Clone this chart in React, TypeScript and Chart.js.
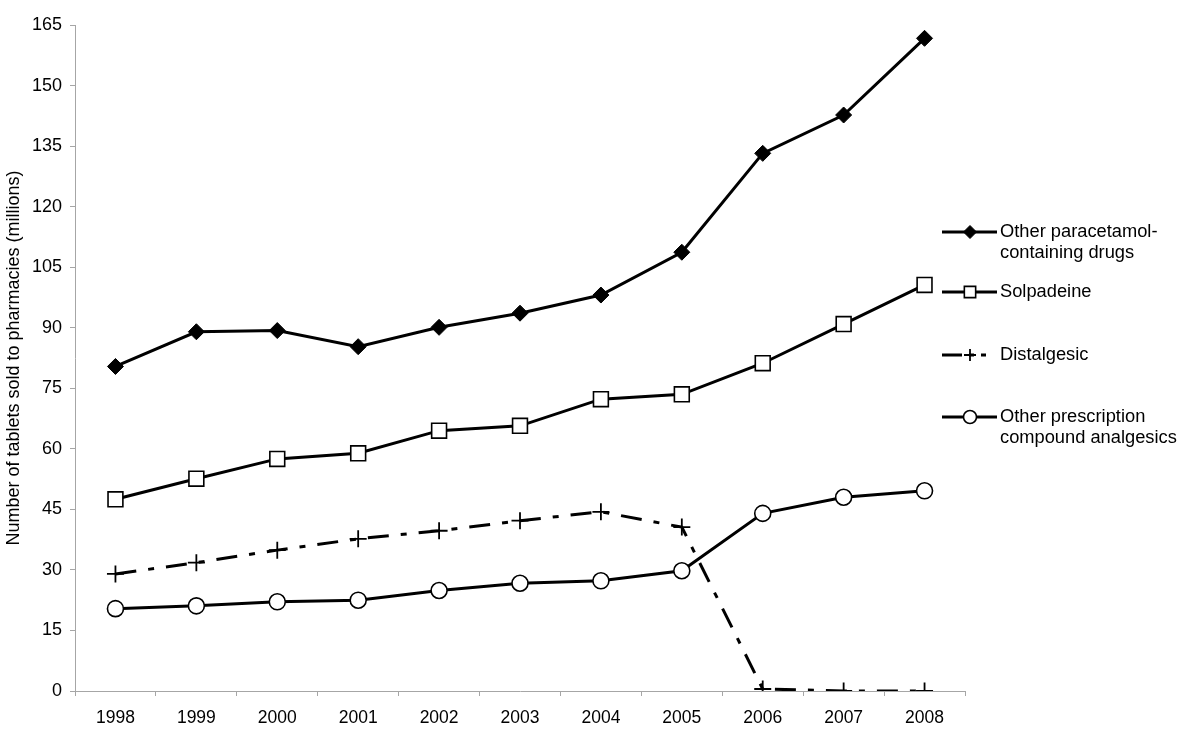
import React, { useEffect, useRef } from "react";
import { Chart, registerables } from "chart.js";

Chart.register(...registerables);

const years = ["1998", "1999", "2000", "2001", "2002", "2003", "2004", "2005", "2006", "2007", "2008"];
const paracetamol = [80.4, 89.0, 89.3, 85.3, 90.1, 93.6, 98.1, 108.7, 133.2, 142.7, 161.7];
const solpadeine = [47.5, 52.6, 57.5, 58.9, 64.5, 65.7, 72.3, 73.5, 81.2, 90.9, 100.6];
const distalgesic = [29.0, 31.8, 34.9, 37.7, 39.7, 42.2, 44.4, 40.6, 0.5, 0, 0];
const otherPrescription = [20.4, 21.1, 22.1, 22.5, 24.9, 26.7, 27.3, 29.8, 44.0, 48.0, 49.6];
const seriesNames = [
  ["Other paracetamol-", "containing drugs"],
  ["Solpadeine"],
  ["Distalgesic"],
  ["Other prescription", "compound analgesics"],
];
const yMin = 0;
const yMax = 165;
const yStep = 15;
const yTitle = "Number of tablets sold to pharmacies (millions)";

const FONT = "'Liberation Sans', Arial, Helvetica, sans-serif";
const AXIS_GRAY = "#a6a6a6";
const DASH = [21, 12, 6, 12];

function drawMarker(ctx: CanvasRenderingContext2D, style: string, x: number, y: number, r: number, fill: string, bw: number) {
  ctx.save();
  ctx.setLineDash([]);
  ctx.lineWidth = bw;
  ctx.strokeStyle = "#000";
  ctx.fillStyle = fill;
  ctx.beginPath();
  if (style === "rectRot") {
    ctx.moveTo(x, y - r);
    ctx.lineTo(x + r, y);
    ctx.lineTo(x, y + r);
    ctx.lineTo(x - r, y);
    ctx.closePath();
    ctx.fill();
    ctx.stroke();
  } else if (style === "rect") {
    const s = r * Math.SQRT1_2;
    ctx.rect(x - s, y - s, 2 * s, 2 * s);
    ctx.fill();
    ctx.stroke();
  } else if (style === "circle") {
    ctx.arc(x, y, r, 0, Math.PI * 2);
    ctx.fill();
    ctx.stroke();
  } else if (style === "cross") {
    ctx.moveTo(x - r, y);
    ctx.lineTo(x + r, y);
    ctx.moveTo(x, y - r);
    ctx.lineTo(x, y + r);
    ctx.stroke();
  }
  ctx.restore();
}

const legendPlugin = {
  id: "customLegend",
  afterDraw(chart: any) {
    const ctx: CanvasRenderingContext2D = chart.ctx;
    const rows = [232, 292, 355, 417];
    const legendR = [6.5, 8, 6, 6.5];
    chart.data.datasets.forEach((ds: any, i: number) => {
      const y = rows[i];
      ctx.save();
      ctx.strokeStyle = "#000";
      ctx.lineWidth = 3;
      ctx.lineCap = "butt";
      if (ds.borderDash && ds.borderDash.length) {
        ctx.setLineDash([20, 7, 5, 7]);
        ctx.beginPath();
        ctx.moveTo(942, y);
        ctx.lineTo(986, y);
        ctx.stroke();
      } else {
        ctx.beginPath();
        ctx.moveTo(942, y);
        ctx.lineTo(997, y);
        ctx.stroke();
      }
      ctx.restore();
      drawMarker(ctx, ds.pointStyle, 970, y, legendR[i], ds.pointBackgroundColor, ds.pointBorderWidth);
      ctx.save();
      ctx.fillStyle = "#000";
      ctx.font = `18.3px ${FONT}`;
      ctx.textAlign = "left";
      ctx.textBaseline = "middle";
      seriesNames[i].forEach((line, k) => {
        ctx.fillText(line, 1000, y + k * 20.5);
      });
      ctx.restore();
    });
  },
};

export default function App() {
  const ref = useRef<HTMLCanvasElement>(null);
  useEffect(() => {
    if (!ref.current) return;
    const chart = new Chart(ref.current, {
      type: "line",
      data: {
        labels: years,
        datasets: [
          {
            label: seriesNames[0].join(""),
            data: paracetamol,
            borderColor: "#000",
            borderWidth: 3,
            pointStyle: "rectRot",
            pointRadius: 8,
            pointBackgroundColor: "#000",
            pointBorderColor: "#000",
            pointBorderWidth: 1,
            tension: 0,
          },
          {
            label: seriesNames[1].join(""),
            data: solpadeine,
            borderColor: "#000",
            borderWidth: 3,
            pointStyle: "rect",
            pointRadius: 10.5,
            pointBackgroundColor: "#fff",
            pointBorderColor: "#000",
            pointBorderWidth: 1.6,
            tension: 0,
          },
          {
            label: seriesNames[2].join(""),
            data: distalgesic,
            borderColor: "#000",
            borderWidth: 3,
            borderDash: DASH,
            pointStyle: "cross",
            pointRadius: 8.5,
            pointBackgroundColor: "#fff",
            pointBorderColor: "#000",
            pointBorderWidth: 1.8,
            tension: 0,
          },
          {
            label: seriesNames[3].join(" "),
            data: otherPrescription,
            borderColor: "#000",
            borderWidth: 3,
            pointStyle: "circle",
            pointRadius: 8,
            pointBackgroundColor: "#fff",
            pointBorderColor: "#000",
            pointBorderWidth: 1.6,
            tension: 0,
          },
        ],
      },
      options: {
        responsive: false,
        animation: false,
        layout: { padding: { left: 0, top: 25, right: 235, bottom: 0 } },
        plugins: {
          legend: { display: false },
          tooltip: { enabled: false },
          title: { display: false },
        },
        scales: {
          x: {
            type: "category",
            offset: true,
            grid: {
              offset: true,
              drawOnChartArea: false,
              drawTicks: true,
              tickLength: 5,
              color: AXIS_GRAY,
            },
            border: { color: AXIS_GRAY, width: 1 },
            ticks: {
              color: "#000",
              font: { family: FONT, size: 17.5 },
              padding: 12,
              maxRotation: 0,
              autoSkip: false,
            },
            afterFit(scale: any) {
              scale.height = 49;
            },
          },
          y: {
            min: yMin,
            max: yMax,
            grid: {
              drawOnChartArea: false,
              drawTicks: true,
              tickLength: 5,
              color: AXIS_GRAY,
            },
            border: { color: AXIS_GRAY, width: 1 },
            ticks: {
              stepSize: yStep,
              color: "#000",
              font: { family: FONT, size: 18 },
              padding: 8,
            },
            title: {
              display: true,
              text: yTitle,
              color: "#000",
              font: { family: FONT, size: 18 },
              padding: { top: 3, bottom: 0 },
            },
            afterFit(scale: any) {
              scale.width = 75;
            },
          },
        },
      },
      plugins: [legendPlugin],
    });
    return () => chart.destroy();
  }, []);
  return (
    <div style={{ position: "absolute", left: 0, top: 0, width: 1200, height: 740, background: "#fff" }}>
      <canvas ref={ref} width={1200} height={740} style={{ display: "block" }} />
    </div>
  );
}
